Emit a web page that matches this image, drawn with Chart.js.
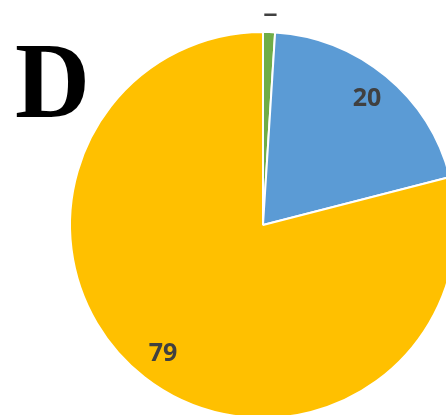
<!DOCTYPE html>
<html>
<head>
<meta charset="utf-8">
<script src="https://cdn.jsdelivr.net/npm/chart.js@4/dist/chart.umd.min.js"></script>
<style>
  html, body { margin: 0; padding: 0; background: #fff; width: 446px; height: 415px; overflow: hidden; }
  #wrap { position: absolute; left: 33px; top: -5px; width: 460px; height: 460px; }
  #letter {
    position: absolute; left: 15px; top: 28px;
    font-family: "Liberation Serif", "DejaVu Serif", serif;
    font-weight: bold; font-size: 107px; line-height: 1; color: #000;
    transform: scaleX(0.97); transform-origin: left top;
  }
</style>
</head>
<body>
<div id="wrap"><canvas id="pie" width="460" height="460"></canvas></div>
<div id="letter">D</div>
<script>
// ---------- data ---------- //
const categories = ["Green", "Blue", "Yellow"];
const values = [1, 20, 79];
const sliceColors = ["#70AD47", "#5B9BD5", "#FFC000"];
const labelText = ["1", "20", "79"];

const CANVAS_TOP = -5; // page offset of the canvas

// draws the value labels inside / outside the slices
const sliceLabels = {
  id: "sliceLabels",
  afterDatasetsDraw(chart) {
    const ctx = chart.ctx;
    const meta = chart.getDatasetMeta(0);
    ctx.save();
    // picture is cropped at the top
    ctx.beginPath();
    ctx.rect(0, 13.5 - CANVAS_TOP, chart.width, chart.height);
    ctx.clip();
    ctx.fillStyle = "#404040";
    ctx.textAlign = "center";
    ctx.textBaseline = "middle";
    meta.data.forEach((arc, i) => {
      const mid = (arc.startAngle + arc.endAngle) / 2;
      const small = values[i] < 5;
      // small slice gets its label outside the pie
      ctx.font = small ? "bold 24px 'DejaVu Sans', sans-serif" : "bold 25px 'Open Sans', sans-serif";
      const r = arc.outerRadius * (small ? 1.115 : 0.845);
      const x = arc.x + Math.cos(mid) * r;
      const y = arc.y + Math.sin(mid) * r;
      ctx.fillText(labelText[i], x, y);
    });
    ctx.restore();
  }
};

new Chart(document.getElementById("pie").getContext("2d"), {
  type: "pie",
  data: {
    labels: categories,
    datasets: [{
      data: values,
      backgroundColor: sliceColors,
      borderColor: "#ffffff",
      borderWidth: 2,
      hoverOffset: 0
    }]
  },
  options: {
    responsive: false,
    animation: false,
    radius: 193,
    layout: { padding: 0 },
    plugins: {
      legend: { display: false },
      tooltip: { enabled: false }
    }
  },
  plugins: [sliceLabels]
});
</script>
</body>
</html>
